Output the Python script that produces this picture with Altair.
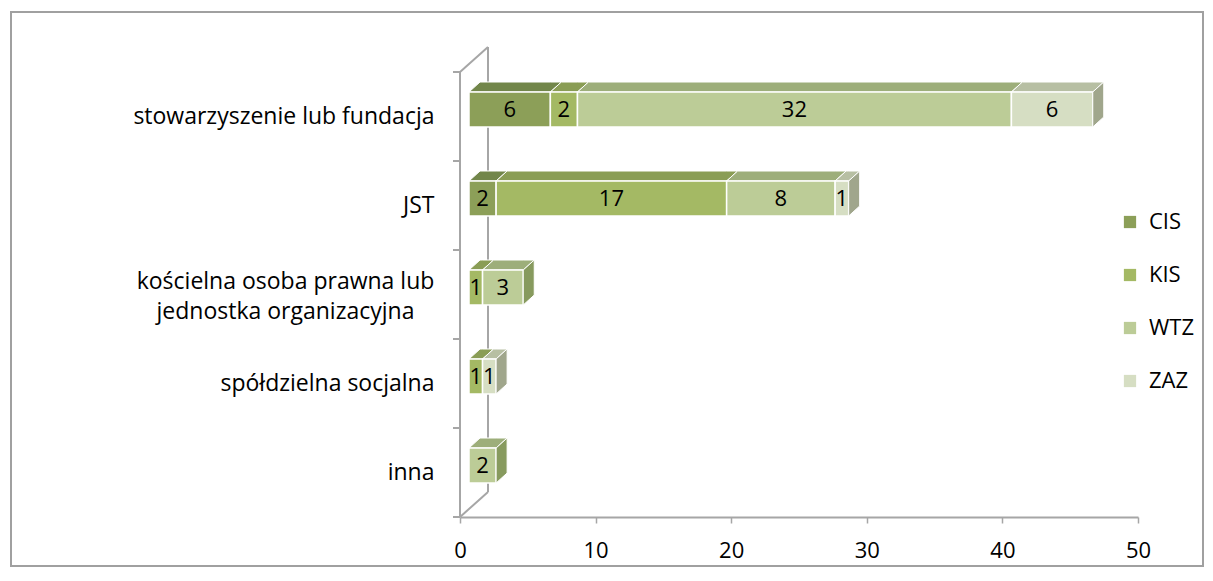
import altair as alt
import pandas as pd

# ---- data ----
categories = ["stowarzyszenie lub fundacja", "JST",
              "kościelna osoba prawna lub jednostka organizacyjna",
              "spółdzielna socjalna", "inna"]
cat_lines = [["stowarzyszenie lub fundacja"], ["JST"],
             ["kościelna osoba prawna lub", "jednostka organizacyjna"],
             ["spółdzielna socjalna"], ["inna"]]
series = ["CIS", "KIS", "WTZ", "ZAZ"]
cis = [6, 2, 0, 0, 0]
kis = [2, 17, 1, 1, 0]
wtz = [32, 8, 3, 0, 2]
zaz = [6, 1, 0, 1, 0]
x_ticks = [0, 10, 20, 30, 40, 50]

# ---- styles ----
front_colors = ["#8C9F58", "#A4B964", "#BCCC97", "#D6DEC3"]
top_colors = ["#72864A", "#8A9D55", "#9DAE7A", "#B7BFA3"]
side_colors = ["#6C7F40", "#7F9249", "#879A5E", "#A0A68C"]
FONT = "Open Sans"
GREY = "#A6A6A6"

W, H = 678, 445
XMAX, NCAT = 50, len(categories)
ux, uy = XMAX / W, NCAT / H
SHIFT, DX, DY = 9 * ux, 11 * ux, 10 * uy
FT, FB = 24.5 * uy, 10.5 * uy
WALLX, WALLY = 28 * ux, 25 * uy

values = [cis, kis, wtz, zaz]
fronts, tops, sides = [], [], []
seg = 0
for i, cat in enumerate(categories):
    c = NCAT - (i + 0.5)
    yt, yb = c + FT, c - FB
    cum = 0
    last = None
    for s, name in enumerate(series):
        v = values[s][i]
        if v <= 0:
            continue
        a, b = cum + SHIFT, cum + v + SHIFT
        fronts.append(dict(series=name, x=a, x2=b, y=yt, y2=yb,
                           mid=(a + b) / 2, ymid=(yt + yb) / 2, label=str(v)))
        col = top_colors[s]
        for px, py, py2 in [(a, yt, yt), (a + DX, yt + DY, yt), (b, yt + DY, yt),
                            (b + DX, yt + DY, yt + DY)]:
            tops.append(dict(seg=seg, x=px, y=py, y2=py2, col=col))
        last = (s, b)
        seg += 1
        cum += v
    s, b = last
    sides.append(dict(seg=seg, x=b, y=yt, y2=yb, col=side_colors[s]))
    sides.append(dict(seg=seg, x=b + DX, y=yt + DY, y2=yb + DY, col=side_colors[s]))
    seg += 1

fronts = pd.DataFrame(fronts)
tops = pd.DataFrame(tops)
sides = pd.DataFrame(sides)

walls = [dict(x=0, x2=0, y=0, y2=NCAT),
         dict(x=WALLX, x2=WALLX, y=WALLY, y2=NCAT + WALLY),
         dict(x=0, x2=WALLX, y=NCAT, y2=NCAT + WALLY),
         dict(x=0, x2=WALLX, y=0, y2=WALLY)]
for k in range(NCAT + 1):
    walls.append(dict(x=-7 * ux, x2=0, y=k, y2=k))
walls = pd.DataFrame(walls)

xs = alt.Scale(domain=[0, XMAX], nice=False, zero=False)
ys = alt.Scale(domain=[0, NCAT], nice=False, zero=False)

# label positions: two-line label lifted so its block is centred on the band
label_vals = [NCAT - (i + 0.5) + (13 * uy if len(cat_lines[i]) > 1 else 0)
              for i in range(NCAT)]
label_expr = "[" + ",".join(
    "[" + ",".join("'" + t + "'" for t in lines) + "]" for lines in cat_lines
) + "][round(%g - datum.value)]" % (NCAT - 0.5)
multi_test = " || ".join("abs(datum.value - %g) < 0.01" % label_vals[i]
                         for i in range(NCAT) if len(cat_lines[i]) > 1)

x_axis = alt.Axis(values=x_ticks, grid=False, title=None, domainColor=GREY, domainWidth=2,
                  tickColor=GREY, tickWidth=1.5, tickSize=6, labelPadding=17,
                  labelFont=FONT, labelFontSize=22, labelColor="black", labelFlush=False)
y_axis = alt.Axis(values=label_vals, grid=False, title=None,
                  domain=False, ticks=False, tickSize=0,
                  labelPadding={"condition": {"test": multi_test, "value": 175}, "value": 26},
                  labelAlign={"condition": {"test": multi_test, "value": "center"}, "value": "right"},
                  labelExpr=label_expr, labelFont=FONT, labelFontSize=23,
                  labelColor="black", labelLimit=500, labelLineHeight=30,
                  labelBaseline="middle")

wall_layer = alt.Chart(walls).mark_rule(color=GREY, strokeWidth=2).encode(
    x=alt.X("x:Q", scale=xs, axis=x_axis), x2="x2:Q",
    y=alt.Y("y:Q", scale=ys, axis=y_axis), y2="y2:Q")

frame = alt.Chart(pd.DataFrame({"k": [0]})).mark_rect(
    fill=None, stroke="#A0A0A0", strokeWidth=2, clip=False
).encode(x=alt.value(11 - 460), x2=alt.value(1203 - 460),
         y=alt.value(12 - 72), y2=alt.value(566 - 72))

top_layer = alt.Chart(tops).mark_area(stroke="white", strokeWidth=1, opacity=1).encode(
    x=alt.X("x:Q", scale=xs, axis=x_axis),
    y=alt.Y("y:Q", scale=ys, axis=y_axis), y2="y2:Q",
    detail="seg:N", fill=alt.Fill("col:N", scale=None))

side_layer = alt.Chart(sides).mark_area(stroke="white", strokeWidth=1, opacity=1).encode(
    x=alt.X("x:Q", scale=xs, axis=x_axis),
    y=alt.Y("y:Q", scale=ys, axis=y_axis), y2="y2:Q",
    detail="seg:N", fill=alt.Fill("col:N", scale=None))

front_layer = alt.Chart(fronts).mark_rect(stroke="white", strokeWidth=1.5).encode(
    x=alt.X("x:Q", scale=xs, axis=x_axis), x2="x2:Q",
    y=alt.Y("y:Q", scale=ys, axis=y_axis), y2="y2:Q",
    color=alt.Color("series:N", scale=alt.Scale(domain=series, range=front_colors),
                    legend=alt.Legend(title=None, orient="none", legendX=659, legendY=139,
                                      symbolType="square", symbolSize=150,
                                      symbolStrokeWidth=0, labelFont=FONT,
                                      labelFontSize=22, labelColor="black",
                                      rowPadding=31, labelOffset=8, padding=0)))

text_layer = alt.Chart(fronts).mark_text(font=FONT, fontSize=22, color="black",
                                         align="center", baseline="middle").encode(
    x=alt.X("mid:Q", scale=xs, axis=x_axis),
    y=alt.Y("ymid:Q", scale=ys, axis=y_axis),
    text="label:N")

chart = alt.layer(wall_layer, frame, top_layer, front_layer, side_layer,
                  text_layer).properties(
    width=W, height=H,
    background="white",
    autosize=alt.AutoSizeParams(type="none"),
    padding={"left": 452, "top": 64, "right": 67, "bottom": 51},
).configure_view(stroke=None)

chart.save("out.html", embed_options={"renderer": "svg", "actions": False})
